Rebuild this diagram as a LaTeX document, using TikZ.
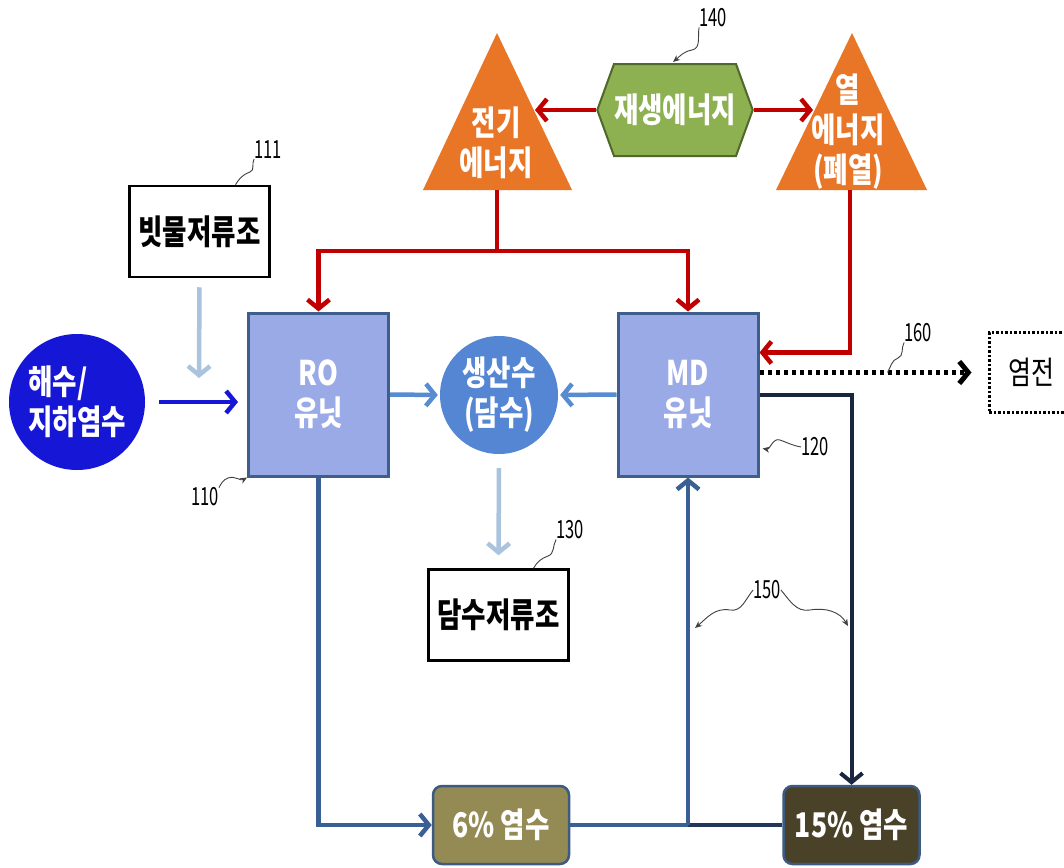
\documentclass[tikz,border=0pt]{standalone}
\usepackage{fontspec}
\setmainfont[FakeStretch=0.78]{Noto Sans CJK KR}
\newfontfamily\numfont[FakeStretch=0.66]{Noto Sans CJK KR}
\usetikzlibrary{arrows.meta,positioning,calc,shapes.symbols}

\definecolor{seablue}{RGB}{22,22,214}
\definecolor{unitfill}{RGB}{154,170,230}
\definecolor{unitline}{RGB}{62,94,140}
\definecolor{prodblue}{RGB}{84,134,212}
\definecolor{midblue}{RGB}{88,140,208}
\definecolor{paleblue}{RGB}{170,196,222}
\definecolor{powred}{RGB}{192,0,0}
\definecolor{engorange}{RGB}{232,118,38}
\definecolor{renewgreen}{RGB}{141,176,80}
\definecolor{renewline}{RGB}{80,104,44}
\definecolor{brine6}{RGB}{148,138,84}
\definecolor{brine15}{RGB}{74,66,40}
\definecolor{brineline}{RGB}{60,90,130}
\definecolor{navyline}{RGB}{24,38,64}
\definecolor{steelline}{RGB}{58,95,148}

\tikzset{
  lbl/.style={font=\fontsize{34}{40}\selectfont\bfseries, text=white, align=center, inner sep=0pt},
  unit/.style={draw=unitline, line width=3pt, fill=unitfill, minimum width=140, minimum height=163, lbl},
  tank/.style={draw, line width=2.5pt, fill=white, minimum width=140, minimum height=91, lbl, text=black},
  brine/.style={draw=brineline, line width=2.5pt, rounded corners=9pt, minimum width=136, minimum height=78, lbl},
  arr/.style={-{Straight Barb[length=9pt,width=22pt]}, line width=4.5pt},
  num/.style={font=\numfont\fontsize{25}{25}\selectfont, inner sep=0pt},
  lead/.style={line width=0.9pt, draw=black!75},
  leadarr/.style={lead, -{Stealth[length=7pt,width=6pt]}},
}

\begin{document}
\begin{tikzpicture}[x=1pt, y=-1pt]
\useasboundingbox[fill=white] (0,0) rectangle (1064,867);

% energy sources
\fill[engorange] (497,33) -- (572,190) -- (423,190) -- cycle;
\node[lbl] (elec) at (496,143) {전기\\에너지};
\fill[engorange] (852,33) -- (927,190) -- (776,190) -- cycle;
\node[lbl] (heat) at (848,132) {열\\에너지\\(폐열)};
\coordinate (elecbase) at (497,190);
\coordinate (heatbase) at (850,190);
\coordinate (elecside) at (535,110);
\coordinate (heatside) at (813,110);
\coordinate (split) at (497,251);
\node[signal, signal to=west and east, signal pointer angle=140, draw=renewline, line width=2pt,
  fill=renewgreen, minimum width=136, minimum height=92, lbl] (renew) at (675,110) {재생에너지};

% units and tanks
\node[circle, fill=seablue, minimum size=136, lbl, align=left] (sea) at (77,402) {해수/\\지하염수};
\node[tank] (rain) at (199.5,231.5) {빗물저류조};
\node[unit] (ro) at (318.5,394.5) {RO\\유닛};
\node[unit] (md) at (688,394.5) {MD\\유닛};
\node[circle, fill=prodblue, minimum size=118, lbl] (prod) at (499,395) {생산수\\(담수)};
\node[tank] (fresh) at (498.5,615) {담수저류조};
\node[draw, dash pattern=on 2.5pt off 2pt, line width=3pt, minimum width=84, minimum height=80,
  font=\fontsize{32}{32}\selectfont, inner sep=0pt] (field) at (1031,372.5) {염전};
\node[brine, fill=brine6] (six) at (501,825) {6\% 염수};
\node[brine, fill=brine15] (fifteen) at (851.5,825) {15\% 염수};
\coordinate (inlet) at (199,378);
\coordinate (junc) at (md.south |- six.east);

% connectors
\draw[arr, draw=powred] (renew.west) -- (elecside);
\draw[arr, draw=powred] (renew.east) -- (heatside);
\draw[powred, line width=4.5pt] (elecbase) -- (split);
\draw[arr, draw=powred] (split) -| (ro.north);
\draw[arr, draw=powred] (split) -| (md.north);
\draw[arr, draw=powred] (heatbase) |- ($(md.east)+(0,-42)$);
\draw[arr, draw=seablue, shorten <=14pt, shorten >=9pt] (sea.east) -- (sea.east -| ro.west);
\draw[arr, draw=paleblue, shorten <=9pt] (rain.south) -- (inlet);
\draw[arr, draw=midblue, shorten >=2pt] (ro.east) -- (prod.west);
\draw[arr, draw=midblue, shorten >=2pt] (md.west) -- (prod.east);
\draw[arr, draw=paleblue, shorten <=14pt, shorten >=13pt] (prod.south) -- (fresh.north);
\draw[arr, draw=black, line width=5pt, dash pattern=on 4.5pt off 3.5pt, shorten >=16pt] (md.east |- field.west) -- (field.west);
\draw[arr, draw=navyline, line width=4pt] (md.east) -| (fifteen.north);
\draw[arr, draw=steelline] (ro.south) |- (six.west);
\draw[steelline, line width=4.5pt] (six.east) -- (junc);
\draw[navyline!70!steelline, line width=4.5pt] (fifteen.west) -- (junc);
\draw[arr, draw=steelline] (junc) -- (md.south);

% reference numerals
\node[num] (n140) at (713,18) {140};
\node[num] (n111) at (268,150) {111};
\node[num] (n110) at (205,497) {110};
\node[num] (n130) at (570,530) {130};
\node[num] (n120) at (815,447) {120};
\node[num] (n160) at (918,333) {160};
\node[num] (n150) at (767,590) {150};
\draw[leadarr] (n140.south west) to[out=-100,in=10] (692,50) to[out=190,in=40] (673,62);
\draw[lead] (n111.south west) to[out=-120,in=20] (250,172) to[out=200,in=60] ($(rain.north)+(36,0)$);
\draw[leadarr] (n110.north east) to[out=60,in=200] (228,478) to[out=20,in=210] (ro.south west);
\draw[lead] (n130.south west) to[out=-120,in=20] (548,556) to[out=200,in=60] ($(fresh.north)+(35,0)$);
\draw[leadarr] (n120.west) to[out=170,in=-20] (780,440) to[out=160,in=-10] ($(md.east)+(3,54)$);
\draw[lead] (n160.south west) to[out=-120,in=20] (898,358) to[out=200,in=60] ($(md.east |- field.west)+(128,0)$);
\draw[leadarr] (n150.west) to[out=-130,in=-10] (730,610) to[out=170,in=40] (695,628);
\draw[leadarr] (n150.east) to[out=-50,in=190] (810,610) to[out=10,in=120] (848,626);
\end{tikzpicture}
\end{document}
